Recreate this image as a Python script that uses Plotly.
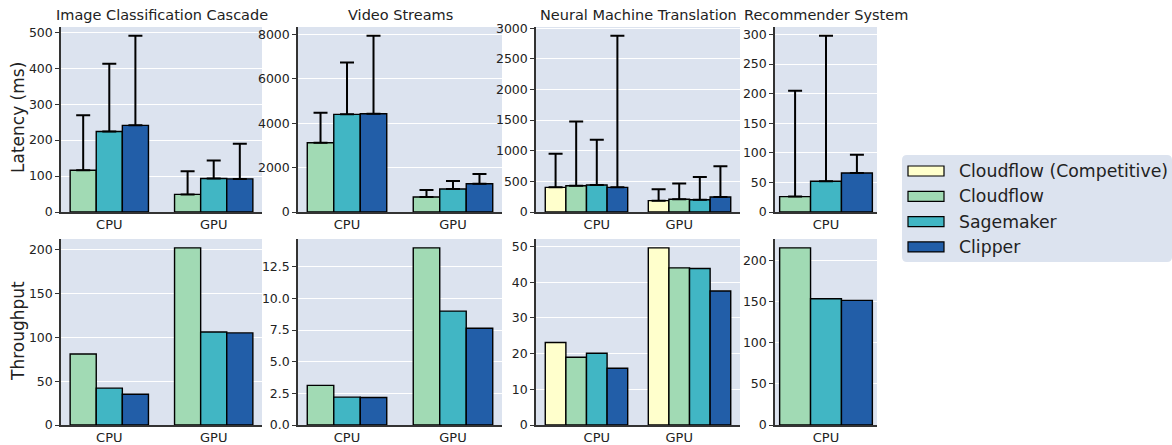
import plotly.graph_objects as go

# ---------------- data ----------------
series_names = ["Cloudflow (Competitive)", "Cloudflow", "Sagemaker", "Clipper"]
series_colors = ["#ffffcc", "#a1dab4", "#41b6c4", "#225ea8"]
panel_titles = ["Image Classification Cascade", "Video Streams",
                "Neural Machine Translation", "Recommender System"]
groups_two = ["CPU", "GPU"]
groups_one = ["CPU"]

# Image Classification Cascade (latency median, latency tail, throughput)
icc_lat_cloudflow = [116, 49]
icc_tail_cloudflow = [269, 113]
icc_lat_sagemaker = [224, 93]
icc_tail_sagemaker = [412, 143]
icc_lat_clipper = [241, 92]
icc_tail_clipper = [490, 190]
icc_tput_cloudflow = [81, 202]
icc_tput_sagemaker = [42, 106]
icc_tput_clipper = [35, 105]

# Video Streams
vs_lat_cloudflow = [3120, 675]
vs_tail_cloudflow = [4475, 990]
vs_lat_sagemaker = [4400, 1035]
vs_tail_sagemaker = [6740, 1400]
vs_lat_clipper = [4430, 1276]
vs_tail_clipper = [7940, 1710]
vs_tput_cloudflow = [3.13, 14.0]
vs_tput_sagemaker = [2.2, 9.0]
vs_tput_clipper = [2.17, 7.65]

# Neural Machine Translation
nmt_lat_competitive = [402, 185]
nmt_tail_competitive = [951, 370]
nmt_lat_cloudflow = [429, 207]
nmt_tail_cloudflow = [1478, 467]
nmt_lat_sagemaker = [440, 201]
nmt_tail_sagemaker = [1179, 571]
nmt_lat_clipper = [402, 245]
nmt_tail_clipper = [2875, 745]
nmt_tput_competitive = [23.1, 49.6]
nmt_tput_cloudflow = [18.95, 44.0]
nmt_tput_sagemaker = [20.1, 43.8]
nmt_tput_clipper = [15.9, 37.5]

# Recommender System
rec_lat_cloudflow = [26]
rec_tail_cloudflow = [205]
rec_lat_sagemaker = [52]
rec_tail_sagemaker = [297.7]
rec_lat_clipper = [66]
rec_tail_clipper = [96.8]
rec_tput_cloudflow = [216]
rec_tput_sagemaker = [154]
rec_tput_clipper = [152]

# ---------------- layout helpers ----------------
W, H = 1172, 445
BG = "#dce3ef"
AX = "#333333"
FONT = "DejaVu Sans"

col_px = [(61, 262), (298, 502), (536, 740), (775, 877)]
row_px = [(27, 212), (239, 425)]

panels = [
    dict(groups=groups_two, width=0.25, offsets=[-0.25, 0, 0.25], ticks=[0, 1],
         xr=[-0.4625, 1.4625],
         lat=[(1, icc_lat_cloudflow, icc_tail_cloudflow), (2, icc_lat_sagemaker, icc_tail_sagemaker),
              (3, icc_lat_clipper, icc_tail_clipper)],
         tput=[(1, icc_tput_cloudflow), (2, icc_tput_sagemaker), (3, icc_tput_clipper)],
         lat_ticks=[0, 100, 200, 300, 400, 500], tput_ticks=[0, 50, 100, 150, 200], tput_fmt=None),
    dict(groups=groups_two, width=0.25, offsets=[-0.25, 0, 0.25], ticks=[0, 1],
         xr=[-0.4625, 1.4625],
         lat=[(1, vs_lat_cloudflow, vs_tail_cloudflow), (2, vs_lat_sagemaker, vs_tail_sagemaker),
              (3, vs_lat_clipper, vs_tail_clipper)],
         tput=[(1, vs_tput_cloudflow), (2, vs_tput_sagemaker), (3, vs_tput_clipper)],
         lat_ticks=[0, 2000, 4000, 6000, 8000], tput_ticks=[0, 2.5, 5, 7.5, 10, 12.5], tput_fmt=".1f"),
    dict(groups=groups_two, width=0.2, offsets=[-0.3, -0.1, 0.1, 0.3], ticks=[0.1, 0.9],
         xr=[-0.49, 1.49],
         lat=[(0, nmt_lat_competitive, nmt_tail_competitive), (1, nmt_lat_cloudflow, nmt_tail_cloudflow),
              (2, nmt_lat_sagemaker, nmt_tail_sagemaker), (3, nmt_lat_clipper, nmt_tail_clipper)],
         tput=[(0, nmt_tput_competitive), (1, nmt_tput_cloudflow), (2, nmt_tput_sagemaker),
               (3, nmt_tput_clipper)],
         lat_ticks=[0, 500, 1000, 1500, 2000, 2500, 3000], tput_ticks=[0, 10, 20, 30, 40, 50], tput_fmt=None),
    dict(groups=groups_one, width=0.25, offsets=[-0.25, 0, 0.25], ticks=[0],
         xr=[-0.4125, 0.4125],
         lat=[(1, rec_lat_cloudflow, rec_tail_cloudflow), (2, rec_lat_sagemaker, rec_tail_sagemaker),
              (3, rec_lat_clipper, rec_tail_clipper)],
         tput=[(1, rec_tput_cloudflow), (2, rec_tput_sagemaker), (3, rec_tput_clipper)],
         lat_ticks=[0, 50, 100, 150, 200, 250, 300], tput_ticks=[0, 50, 100, 150, 200], tput_fmt=None),
]

fig = go.Figure()
layout = dict(
    width=W, height=H, margin=dict(l=0, r=0, t=0, b=0, autoexpand=False),
    plot_bgcolor="white", paper_bgcolor="white",
    barmode="overlay", showlegend=False,
    font=dict(family=FONT, color="#222222"),
)


def axis_pair(k, col, row, xr, ticks, labels, yr, yticks, yfmt):
    x0, x1 = col_px[col]
    t, b = row_px[row]
    sfx = "" if k == 1 else str(k)
    layout["xaxis" + sfx] = dict(
        domain=[x0 / W, x1 / W], anchor="y" + sfx, range=xr,
        tickvals=ticks, ticktext=labels, ticks="", showgrid=False, zeroline=False,
        showline=True, linecolor=AX, linewidth=1.5, tickfont=dict(size=13, color="#222"),
        fixedrange=True, automargin=False, ticklabelstandoff=0,
    )
    layout["yaxis" + sfx] = dict(
        domain=[1 - b / H, 1 - t / H], anchor="x" + sfx, range=yr,
        tickvals=yticks, tickformat=yfmt, ticks="outside", ticklen=4, tickwidth=1.2, tickcolor=AX,
        showgrid=True, gridcolor="white", gridwidth=1.2, zeroline=False,
        showline=True, linecolor=AX, linewidth=1.5, tickfont=dict(size=12.5, color="#222"),
        fixedrange=True, automargin=False,
    )
    return "x" + sfx, "y" + sfx


for c, p in enumerate(panels):
    ng = len(p["groups"])
    # latency row
    ymax = max(max(s[2]) for s in p["lat"]) * 1.05
    xa, ya = axis_pair(c + 1, c, 0, p["xr"], p["ticks"], p["groups"], [0, ymax],
                       p["lat_ticks"], None)
    for j, (si, vals, tails) in enumerate(p["lat"]):
        xs = [g + p["offsets"][j] for g in range(ng)]
        fig.add_trace(go.Bar(
            x=xs, y=vals, width=p["width"], name=series_names[si],
            marker=dict(color=series_colors[si], line=dict(color="black", width=1.4)),
            error_y=dict(type="data", symmetric=False,
                         array=[t - v for t, v in zip(tails, vals)], arrayminus=[0] * ng,
                         color="black", thickness=2, width=7),
            xaxis=xa, yaxis=ya, showlegend=False,
        ))
    # throughput row
    ymax = max(max(s[1]) for s in p["tput"]) * 1.05
    xa, ya = axis_pair(c + 5, c, 1, p["xr"], p["ticks"], p["groups"], [0, ymax],
                       p["tput_ticks"], p["tput_fmt"])
    for j, (si, vals) in enumerate(p["tput"]):
        xs = [g + p["offsets"][j] for g in range(ng)]
        fig.add_trace(go.Bar(
            x=xs, y=vals, width=p["width"], name=series_names[si],
            marker=dict(color=series_colors[si], line=dict(color="black", width=1.4)),
            xaxis=xa, yaxis=ya, showlegend=False,
        ))

shapes = []
annotations = []
# plot backgrounds
for c in range(4):
    for r in range(2):
        x0, x1 = col_px[c]
        t, b = row_px[r]
        shapes.append(dict(type="rect", xref="paper", yref="paper", layer="below",
                           x0=x0 / W, x1=x1 / W, y0=1 - b / H, y1=1 - t / H,
                           fillcolor=BG, line=dict(width=0)))
    # panel titles
    x0, x1 = col_px[c]
    annotations.append(dict(text=panel_titles[c], xref="paper", yref="paper",
                            x=(x0 + x1) / 2 / W, y=1 - 15 / H, showarrow=False,
                            xanchor="center", yanchor="middle",
                            font=dict(size=14.5, family=FONT, color="#222")))

# y titles
annotations.append(dict(text="Latency (ms)", xref="paper", yref="paper", x=18 / W, y=1 - 118 / H,
                        textangle=-90, showarrow=False, xanchor="center", yanchor="middle",
                        font=dict(size=17, family=FONT, color="#222")))
annotations.append(dict(text="Throughput", xref="paper", yref="paper", x=18 / W, y=1 - 331 / H,
                        textangle=-90, showarrow=False, xanchor="center", yanchor="middle",
                        font=dict(size=17, family=FONT, color="#222")))

# legend (box with swatches)
lx0, lx1, ly0, ly1 = 902, 1172, 155, 262
r = 5
path = (f"M {lx0 + r},{ly0} L {lx1 - r},{ly0} Q {lx1},{ly0} {lx1},{ly0 + r} "
        f"L {lx1},{ly1 - r} Q {lx1},{ly1} {lx1 - r},{ly1} L {lx0 + r},{ly1} "
        f"Q {lx0},{ly1} {lx0},{ly1 - r} L {lx0},{ly0 + r} Q {lx0},{ly0} {lx0 + r},{ly0} Z")


def px_path(pth):
    out = []
    for tok in pth.split(" "):
        if "," in tok:
            a, b = tok.split(",")
            out.append(f"{float(a) / W},{1 - float(b) / H}")
        else:
            out.append(tok)
    return " ".join(out)


shapes.append(dict(type="path", xref="paper", yref="paper", path=px_path(path),
                   fillcolor=BG, line=dict(width=0)))
for i, name in enumerate(series_names):
    cy = 171 + i * 25.3
    shapes.append(dict(type="rect", xref="paper", yref="paper",
                       x0=908 / W, x1=944 / W, y0=1 - (cy + 5) / H, y1=1 - (cy - 5) / H,
                       fillcolor=series_colors[i], line=dict(color="black", width=1.2)))
    annotations.append(dict(text=name, xref="paper", yref="paper", x=957 / W, y=1 - cy / H,
                            showarrow=False, xanchor="left", yanchor="middle",
                            font=dict(size=17.3, family=FONT, color="#222")))

layout["shapes"] = shapes
layout["annotations"] = annotations
fig.update_layout(**layout)
fig.write_html("out.html", config={"displayModeBar": False},
               post_script="document.body.style.margin='0';document.body.style.overflow='hidden';")
